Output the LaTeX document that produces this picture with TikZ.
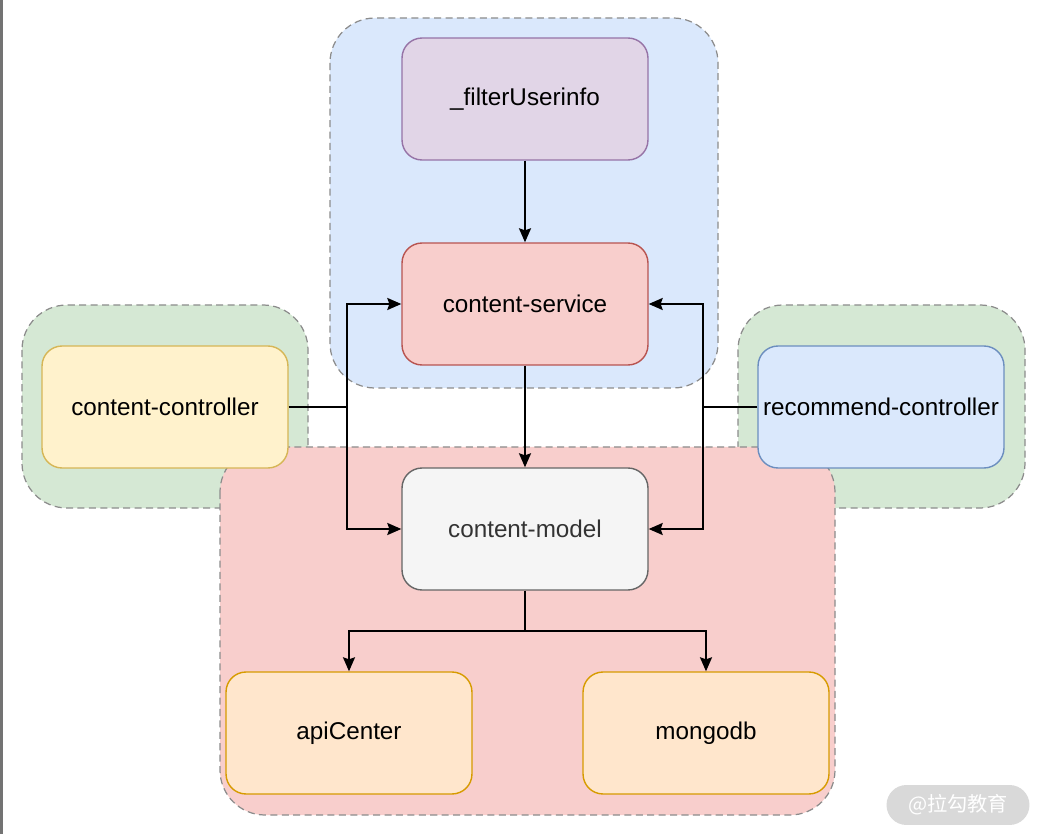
\documentclass[tikz,border=0pt]{standalone}
\usepackage{fontspec}
\setmainfont{Liberation Sans}
\newfontfamily\cjk{Noto Sans CJK SC}
\usetikzlibrary{arrows.meta}

\definecolor{grpblue}{HTML}{DAE8FC}
\definecolor{grpgreen}{HTML}{D5E8D4}
\definecolor{grpred}{HTML}{F8CECC}
\definecolor{grpline}{HTML}{8C8C8C}
\definecolor{purplefill}{HTML}{E1D5E7}
\definecolor{purpleline}{HTML}{9673A6}
\definecolor{redfill}{HTML}{F8CECC}
\definecolor{redline}{HTML}{B85450}
\definecolor{yellowfill}{HTML}{FFF2CC}
\definecolor{yellowline}{HTML}{D6B656}
\definecolor{bluefill}{HTML}{DAE8FC}
\definecolor{blueline}{HTML}{6C8EBF}
\definecolor{grayfill}{HTML}{F5F5F5}
\definecolor{grayline}{HTML}{666666}
\definecolor{orangefill}{HTML}{FFE6CC}
\definecolor{orangeline}{HTML}{D79B00}

\tikzset{
  group/.style={draw=grpline, dashed, dash pattern=on 4pt off 2.5pt,
    line width=0.7pt, rounded corners=0.9cm},
  box/.style={rectangle, rounded corners=0.4cm, line width=0.8pt,
    minimum width=4.92cm, minimum height=2.44cm, inner sep=0pt,
    font=\fontsize{13.8}{16}\selectfont},
  arr/.style={line width=1.1pt, -{Stealth[length=0.28cm, width=0.24cm, inset=0.04cm]}},
  wire/.style={line width=1.1pt}
}

\begin{document}
\begin{tikzpicture}[x=0.02cm, y=-0.02cm]
  \useasboundingbox (0,0) rectangle (1045,834);
  \fill[white] (0,0) rectangle (1045,834);
  \fill[black!55] (0,0) rectangle (3,834);

  % groups
  \filldraw[group, fill=grpblue]  (330,18)  rectangle (718,388);
  \filldraw[group, fill=grpgreen] (22,305)  rectangle (308,508);
  \filldraw[group, fill=grpgreen] (738,305) rectangle (1025,508);
  \filldraw[group, fill=grpred]   (220,447) rectangle (835,815);

  % services
  \node[box, fill=purplefill, draw=purpleline] (filter)  at (525,99)  {\_filterUserinfo};
  \node[box, fill=redfill,    draw=redline]    (service) at (525,304) {content-service};
  \node[box, fill=yellowfill, draw=yellowline] (ctrl)    at (165,407) {content-controller};
  \node[box, fill=bluefill,   draw=blueline]   (rec)     at (881,407) {recommend-controller};
  \node[box, fill=grayfill,   draw=grayline, text=black!80] (model) at (525,529) {content-model};
  \node[box, fill=orangefill, draw=orangeline] (api)     at (349,733) {apiCenter};
  \node[box, fill=orangefill, draw=orangeline] (mongo)   at (706,733) {mongodb};

  % connectors
  \coordinate (jl) at (347,407);
  \coordinate (jr) at (703,407);
  \coordinate (split) at (525,631);

  \draw[arr] (filter) -- (service);
  \draw[arr] (service) -- (model);
  \draw[wire] (ctrl) -- (jl);
  \draw[arr] (jl) |- (service);
  \draw[arr] (jl) |- (model);
  \draw[wire] (rec) -- (jr);
  \draw[arr] (jr) |- (service);
  \draw[arr] (jr) |- (model);
  \draw[wire] (model) -- (split);
  \draw[arr] (split) -| (api);
  \draw[arr] (split) -| (mongo);

  % watermark
  \node[fill=black!15, rounded corners=0.4cm, minimum width=2.86cm,
    minimum height=0.8cm, text=white, font=\cjk\fontsize{11.5}{13}\selectfont]
    (mark) at (958,805) {@拉勾教育};
\end{tikzpicture}
\end{document}
